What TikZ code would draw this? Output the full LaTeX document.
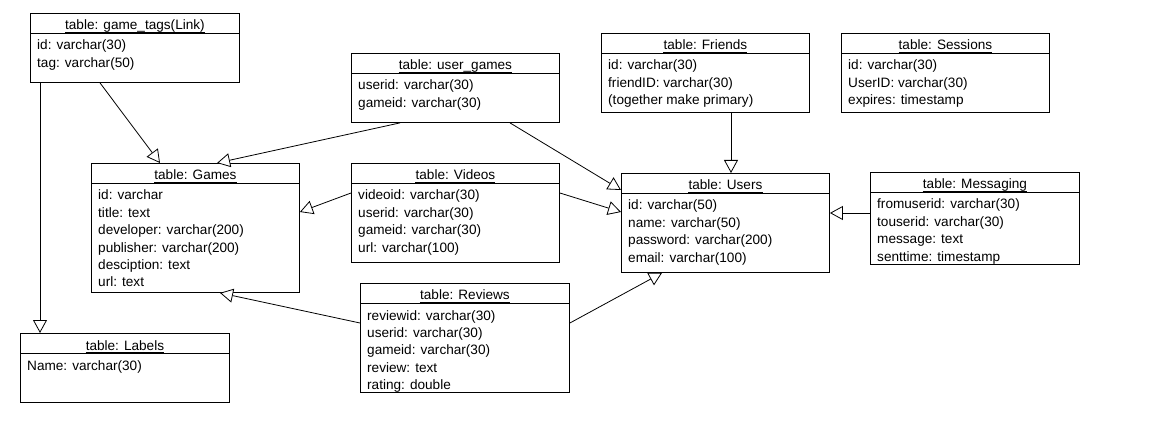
\documentclass[tikz,border=0pt]{standalone}
\usepackage{fontspec}
\setmainfont{Liberation Sans}
\usetikzlibrary{arrows.meta}
\tikzset{
  tblbox/.style={draw=black, line width=0.9pt, fill=white, inner sep=0pt, anchor=north west},
  tbltitle/.style={inner sep=0pt, anchor=base, font=\fontsize{13.6}{16}\selectfont},
  tblfield/.style={inner sep=0pt, anchor=base west, font=\fontsize{13.6}{16}\selectfont},
  rel/.style={draw=black, line width=0.8pt, -{Triangle[open, length=13pt, width=14pt, fill=white]}},
  sepline/.style={draw=black, line width=0.9pt},
  ulin/.style={draw=black, line width=0.5pt}
}
\newcommand\dbtbl[7]{%
  \node[tblbox, minimum width=#4pt, minimum height=#5pt] (#1) at (#2,#3) {};
  \draw[sepline] ([yshift=-20pt]#1.north west) -- ([yshift=-20pt]#1.north east);
  \node[tbltitle] (#1-t) at ([yshift=-17pt]#1.north) {#6};
  \draw[ulin] ([yshift=-2.3pt]#1-t.base west) -- ([yshift=-2.3pt]#1-t.base east);
  \foreach \f [count=\i] in {#7} {
    \node[tblfield] (#1-f\i) at ([xshift=7pt,yshift={-37pt-17.4pt*(\i-1)}]#1.north west) {\f};
  }
}
\begin{document}
\begin{tikzpicture}[x=1pt,y=-1pt]
\useasboundingbox[fill=white] (0,0) rectangle (1158,443);

\dbtbl{gt}{30}{13}{209}{69}{table: game\_tags(Link)}{id: varchar(30), tag: varchar(50)}
\dbtbl{games}{91}{163}{208}{129}{table: Games}{id: varchar, title: text, developer: varchar(200), publisher: varchar(200), desciption: text, url: text}
\dbtbl{labels}{20}{333}{209}{69}{table: Labels}{Name: varchar(30)}
\dbtbl{ug}{351}{53}{208}{69}{table: user\_games}{userid: varchar(30), gameid: varchar(30)}
\dbtbl{videos}{351}{163}{208}{99}{table: Videos}{videoid: varchar(30), userid: varchar(30), gameid: varchar(30), url: varchar(100)}
\dbtbl{friends}{601}{33}{208}{79}{table: Friends}{id: varchar(30), friendID: varchar(30), (together make primary)}
\dbtbl{sessions}{841}{33}{208}{79}{table: Sessions}{id: varchar(30), UserID: varchar(30), expires: timestamp}
\dbtbl{users}{621}{173}{208}{99}{table: Users}{id: varchar(50), name: varchar(50), password: varchar(200), email: varchar(100)}
\dbtbl{msg}{870}{172}{209}{92}{table: Messaging}{fromuserid: varchar(30), touserid: varchar(30), message: text, senttime: timestamp}
\dbtbl{reviews}{360}{283}{209}{109}{table: Reviews}{reviewid: varchar(30), userid: varchar(30), gameid: varchar(30), review: text, rating: double}

\draw[rel] ([xshift=70pt]gt.south west) -- ([xshift=69pt]games.north west);
\draw[rel] ([xshift=10pt]gt.south west) -- ([xshift=20pt]labels.north west);
\draw[rel] ([xshift=49pt]ug.south west) -- ([xshift=126pt]games.north west);
\draw[rel] ([xshift=159pt]ug.south west) -- ([yshift=-17pt]users.north west);
\draw[rel] ([yshift=-30pt]videos.north east) -- ([yshift=-39pt]users.north west);
\draw[rel] ([yshift=-30pt]videos.north west) -- ([yshift=-49pt]games.north east);
\draw[rel] ([yshift=-40pt]reviews.north west) -- ([xshift=129pt]games.south west);
\draw[rel] ([yshift=-40pt]reviews.north east) -- ([xshift=41pt]users.south west);
\draw[rel] ([xshift=130pt]friends.south west) -- ([xshift=110pt]users.north west);
\draw[rel] ([yshift=-41pt]msg.north west) -- ([yshift=-40pt]users.north east);
\end{tikzpicture}
\end{document}
